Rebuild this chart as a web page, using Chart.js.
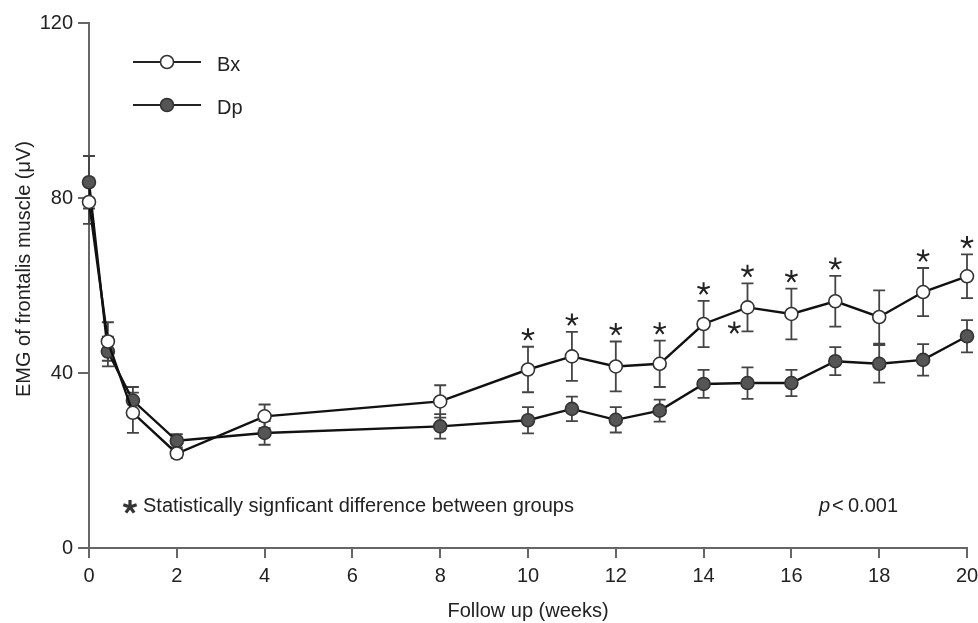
<!DOCTYPE html>
<html>
<head>
<meta charset="utf-8">
<script src="https://cdn.jsdelivr.net/npm/chart.js@4.4.1/dist/chart.umd.min.js"></script>
<style>
  html, body { margin: 0; padding: 0; background: #fff; }
  #wrap { width: 978px; height: 623px; }
</style>
</head>
<body>
<div id="wrap"><canvas id="emg-chart"></canvas></div>
<script>
// --- dados ---
const weeks   = [0, 0.43, 1, 2, 4, 8, 10, 11, 12, 13, 14, 15, 16, 17, 18, 19, 20];
const bxMean  = [79.1, 47.2, 30.9, 21.6, 30.1, 33.5, 40.8, 43.8, 41.5, 42.1, 51.2, 55.0, 53.5, 56.4, 52.8, 58.5, 62.1];
const bxSD    = [5.0, 4.4, 4.6, 1.0, 2.7, 3.7, 5.2, 5.6, 5.7, 5.3, 5.3, 5.5, 5.8, 5.8, 6.1, 5.5, 5.0];
const dpMean  = [83.6, 44.9, 33.7, 24.5, 26.3, 27.8, 29.2, 31.8, 29.3, 31.4, 37.5, 37.7, 37.7, 42.7, 42.1, 43.0, 48.4];
const dpSD    = [6.0, 3.4, 3.1, 1.5, 2.7, 2.8, 3.0, 2.8, 2.9, 2.5, 3.2, 3.6, 3.0, 3.2, 4.3, 3.6, 3.7];
const starWeeks = [10, 11, 12, 13, 14, 15, 16, 17, 19, 20];   // asterisco acima do Bx
const extraStars = [{ x: 14.7, y: 50.3 }];                      // asterisco solto perto da semana 15
const seriesNames = ['Bx', 'Dp'];
const xTickValues = [0, 2, 4, 6, 8, 10, 12, 14, 16, 18, 20];
const yTickValues = [0, 40, 80, 120];
const xTitle = 'Follow up (weeks)';
const yTitle = 'EMG of frontalis muscle (\u03bcV)';
const noteText = 'Statistically signficant difference between groups';

const FONT = '"Liberation Sans", Arial, Helvetica, sans-serif';
const INK = '#222';
const AXIS = '#666';

const bxPoints = weeks.map((w, i) => ({ x: w, y: bxMean[i] }));
const dpPoints = weeks.map((w, i) => ({ x: w, y: dpMean[i] }));

// asterisco de 5 bracos
function drawAsterisk(ctx, cx, cy, r, lw, color) {
    ctx.save();
    ctx.strokeStyle = color;
    ctx.lineWidth = lw;
    ctx.beginPath();
    for (let k = 0; k < 5; k++) {
        const a = -Math.PI / 2 + k * 2 * Math.PI / 5;
        ctx.moveTo(cx, cy);
        ctx.lineTo(cx + r * Math.cos(a), cy + r * Math.sin(a));
    }
    ctx.stroke();
    ctx.restore();
}

// barras de erro (desenhadas antes dos pontos)
const errorBars = {
    id: 'errorBars',
    beforeDatasetsDraw(chart) {
        const { ctx, scales: { x, y } } = chart;
        const sets = [[dpMean, dpSD], [bxMean, bxSD]];
        ctx.save();
        ctx.strokeStyle = '#444';
        ctx.lineWidth = 1.8;
        sets.forEach(([m, sd]) => {
            weeks.forEach((w, i) => {
                const px = x.getPixelForValue(w);
                const top = y.getPixelForValue(m[i] + sd[i]);
                const bot = y.getPixelForValue(m[i] - sd[i]);
                ctx.beginPath();
                ctx.moveTo(px, top); ctx.lineTo(px, bot);
                ctx.moveTo(px - 6, top); ctx.lineTo(px + 6, top);
                ctx.moveTo(px - 6, bot); ctx.lineTo(px + 6, bot);
                ctx.stroke();
            });
        });
        ctx.restore();
    }
};

// legenda, asteriscos, titulo do eixo y e notas
const annotations = {
    id: 'annotations',
    afterDraw(chart) {
        const { ctx, scales: { x, y } } = chart;

        starWeeks.forEach(w => {
            const i = weeks.indexOf(w);
            const px = x.getPixelForValue(w);
            const py = y.getPixelForValue(bxMean[i] + bxSD[i]) - 12;
            drawAsterisk(ctx, px, py, 6.5, 2, '#222');
        });
        extraStars.forEach(s => {
            drawAsterisk(ctx, x.getPixelForValue(s.x), y.getPixelForValue(s.y), 6.5, 2, '#222');
        });

        ctx.save();
        // titulo do eixo y (um pouco acima do centro, como no original)
        ctx.translate(30, 269);
        ctx.rotate(-Math.PI / 2);
        ctx.fillStyle = INK;
        ctx.font = '20px ' + FONT;
        ctx.textAlign = 'center';
        ctx.textBaseline = 'alphabetic';
        ctx.fillText(yTitle, 0, 0);
        ctx.restore();

        // legenda
        const fills = ['#fff', '#555'];
        const rows = [62, 105];
        ctx.save();
        seriesNames.forEach((name, k) => {
            const ly = rows[k];
            ctx.strokeStyle = '#222';
            ctx.lineWidth = 2.2;
            ctx.beginPath();
            ctx.moveTo(133, ly); ctx.lineTo(201, ly);
            ctx.stroke();
            ctx.beginPath();
            ctx.arc(167, ly, 6.5, 0, Math.PI * 2);
            ctx.fillStyle = fills[k];
            ctx.fill();
            ctx.lineWidth = 1.6;
            ctx.strokeStyle = '#333';
            ctx.stroke();
            ctx.fillStyle = INK;
            ctx.font = '20px ' + FONT;
            ctx.textBaseline = 'middle';
            ctx.textAlign = 'left';
            ctx.fillText(name, 217, ly + 3);
        });

        // nota de significancia
        drawAsterisk(ctx, 130, 507, 7, 3.2, '#333');
        ctx.fillStyle = INK;
        ctx.font = '20px ' + FONT;
        ctx.textBaseline = 'alphabetic';
        ctx.fillText(noteText, 143, 512);

        // p<0.001
        ctx.font = 'italic 20px ' + FONT;
        ctx.fillText('p', 819, 512);
        ctx.font = '20px ' + FONT;
        ctx.fillText('<', 832, 512);
        ctx.fillText('0.001', 848, 512);
        ctx.restore();
    }
};

const chart = new Chart(document.getElementById('emg-chart'), {
    type: 'line',
    data: {
        datasets: [{
            label: seriesNames[0],
            data: bxPoints,
            borderColor: '#111',
            borderWidth: 2.4,
            pointRadius: 6.5,
            pointBackgroundColor: '#fff',
            pointBorderColor: '#333',
            pointBorderWidth: 1.6,
            tension: 0,
            clip: false
        }, {
            label: seriesNames[1],
            data: dpPoints,
            borderColor: '#111',
            borderWidth: 2.4,
            pointRadius: 6.5,
            pointBackgroundColor: '#555',
            pointBorderColor: '#333',
            pointBorderWidth: 1.6,
            tension: 0,
            clip: false
        }]
    },
    options: {
        responsive: true,
        maintainAspectRatio: false,
        animation: false,
        layout: { padding: { top: 23, right: 11, left: 0, bottom: 0 } },
        plugins: {
            legend: { display: false },
            tooltip: { enabled: false }
        },
        scales: {
            x: {
                type: 'linear',
                min: 0,
                max: 20,
                afterBuildTicks: s => { s.ticks = xTickValues.map(v => ({ value: v })); },
                afterFit: s => { s.height = 75; s.paddingRight = 0; s.paddingLeft = 0; },
                grid: { drawOnChartArea: false, tickLength: 10, color: AXIS, lineWidth: 2 },
                border: { color: AXIS, width: 2 },
                ticks: { color: INK, font: { family: FONT, size: 20 }, padding: 6, maxRotation: 0 },
                title: {
                    display: true,
                    text: xTitle,
                    color: INK,
                    font: { family: FONT, size: 20 },
                    padding: { top: 8, bottom: 0 }
                }
            },
            y: {
                type: 'linear',
                min: 0,
                max: 120,
                afterBuildTicks: s => { s.ticks = yTickValues.map(v => ({ value: v })); },
                afterFit: s => { s.width = 89; },
                grid: { drawOnChartArea: false, tickLength: 11, color: AXIS, lineWidth: 2 },
                border: { color: AXIS, width: 2 },
                ticks: { color: INK, font: { family: FONT, size: 20 }, padding: 5 }
            }
        }
    },
    plugins: [errorBars, annotations]
});
</script>
</body>
</html>
